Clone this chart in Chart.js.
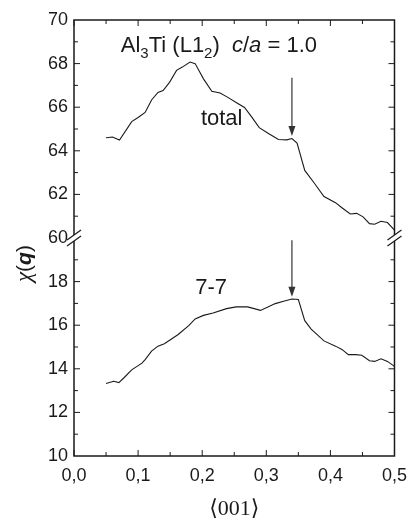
<!DOCTYPE html>
<html>
<head>
<meta charset="utf-8">
<script src="https://cdn.jsdelivr.net/npm/chart.js@4.4.0/dist/chart.umd.min.js"></script>
<style>body{margin:0;background:#fff}</style>
</head>
<body>
<canvas id="chi" width="416" height="522"></canvas>
<script>
// q along <001>
const xTotal = [0.05, 0.06, 0.071, 0.09, 0.10, 0.111, 0.121, 0.131, 0.139, 0.149, 0.16, 0.169, 0.181, 0.189,
  0.202, 0.215, 0.228, 0.24, 0.253, 0.266, 0.276, 0.289, 0.304, 0.319, 0.332, 0.34, 0.348, 0.36, 0.375,
  0.39, 0.408, 0.418, 0.431, 0.441, 0.451, 0.461, 0.469, 0.479, 0.489, 0.5]
const chiTotal = [64.6, 64.63, 64.49, 65.34, 65.53, 65.76, 66.33, 66.68, 66.76, 67.14, 67.69, 67.84, 68.07, 68.0,
  67.3, 66.73, 66.65, 66.45, 66.22, 65.99, 65.6, 65.06, 64.78, 64.52, 64.5, 64.56, 64.35, 63.1, 62.51,
  61.9, 61.62, 61.39, 61.1, 61.13, 60.97, 60.66, 60.63, 60.77, 60.71, 60.36]

const x77 = [0.05, 0.062, 0.07, 0.078, 0.09, 0.106, 0.111, 0.121, 0.131, 0.141, 0.162, 0.179, 0.189, 0.202,
  0.217, 0.238, 0.253, 0.271, 0.291, 0.314, 0.327, 0.34, 0.35, 0.36, 0.37, 0.39, 0.408, 0.418, 0.428,
  0.439, 0.449, 0.461, 0.469, 0.479, 0.489, 0.5]
const chi77 = [13.33, 13.43, 13.37, 13.59, 13.95, 14.26, 14.42, 14.81, 15.04, 15.15, 15.56, 15.98, 16.29, 16.45,
  16.56, 16.76, 16.84, 16.84, 16.68, 16.99, 17.1, 17.2, 17.18, 16.21, 15.82, 15.28, 15.04, 14.89, 14.65,
  14.65, 14.62, 14.37, 14.34, 14.46, 14.34, 14.11]

const topRange = [60, 70]
const botRange = [10, 20]
const arrowQ = 0.34

const INK = '#1a1a1a'
const sans = "'Liberation Sans', Arial, sans-serif"
const serif = "'Liberation Serif', 'DejaVu Serif', serif"

Chart.defaults.font.family = sans
Chart.defaults.color = INK

function pts(xs, ys) { return xs.map((x, i) => ({ x: x, y: ys[i] })) }

function line(ctx, x1, y1, x2, y2) {
  ctx.beginPath(); ctx.moveTo(x1, y1); ctx.lineTo(x2, y2); ctx.stroke()
}

function arrow(ctx, x, y1, y2) {
  ctx.strokeStyle = '#333'; ctx.fillStyle = '#333'; ctx.lineWidth = 1.2
  line(ctx, x, y1, x, y2 - 8)
  ctx.beginPath(); ctx.moveTo(x - 3.5, y2 - 10); ctx.lineTo(x + 3.5, y2 - 10); ctx.lineTo(x, y2); ctx.fill()
}

function breakMark(ctx, x, y) {
  ctx.fillStyle = '#fff'
  ctx.beginPath()
  ctx.moveTo(x - 7, y + 2); ctx.lineTo(x + 7, y - 8); ctx.lineTo(x + 7, y - 2); ctx.lineTo(x - 7, y + 8)
  ctx.fill()
  ctx.strokeStyle = INK; ctx.lineWidth = 1.2
  line(ctx, x - 7, y + 2, x + 7, y - 8)
  line(ctx, x - 7, y + 8, x + 7, y - 2)
}

// text with sub-runs: [text, font, dy]
function runs(ctx, x, y, parts) {
  parts.forEach(([t, f, dy]) => {
    ctx.font = f
    ctx.fillText(t, x, y + (dy || 0))
    x += ctx.measureText(t).width
  })
}

const frame = {
  id: 'frame',
  afterDraw(chart) {
    const { ctx, chartArea: a, scales: { x, yTop, yBot } } = chart
    ctx.save()
    ctx.strokeStyle = INK; ctx.lineWidth = 1.5
    ctx.strokeRect(a.left, a.top, a.right - a.left, a.bottom - a.top)

    ctx.lineWidth = 1
    for (let i = 0; i <= 10; i++) {
      const px = x.getPixelForValue(i * 0.05)
      const len = i % 2 ? 4 : 6
      line(ctx, px, a.bottom, px, a.bottom - len)
      line(ctx, px, a.top, px, a.top + len)
    }
    ;[[yTop, topRange], [yBot, botRange]].forEach(([s, r]) => {
      for (let v = r[0] + 1; v < r[1]; v++) {
        const py = s.getPixelForValue(v)
        const len = v % 2 ? 4 : 6
        line(ctx, a.left, py, a.left + len, py)
        line(ctx, a.right, py, a.right - len, py)
      }
    })

    const yb = yTop.bottom
    breakMark(ctx, a.left, yb)
    breakMark(ctx, a.right, yb)

    const ax = x.getPixelForValue(arrowQ)
    arrow(ctx, ax, yTop.getPixelForValue(67.35), yTop.getPixelForValue(64.68))
    arrow(ctx, ax, yBot.getPixelForValue(19.9), yBot.getPixelForValue(17.3))

    ctx.fillStyle = INK
    ctx.textBaseline = 'alphabetic'
    runs(ctx, x.getPixelForValue(0.073), yTop.getPixelForValue(68.52), [
      ['Al', '22px ' + sans], ['3', '15px ' + sans, 6], ['Ti (L1', '22px ' + sans], ['2', '15px ' + sans, 6],
      [')  ', '22px ' + sans], ['c', 'italic 22px ' + sans], ['/', '22px ' + sans], ['a', 'italic 22px ' + sans],
      [' = 1.0', '22px ' + sans]
    ])
    ctx.font = '22px ' + sans
    ctx.fillText('total', x.getPixelForValue(0.198), yTop.getPixelForValue(65.2))
    ctx.fillText('7-7', x.getPixelForValue(0.189), yBot.getPixelForValue(17.45))

    // y title
    ctx.translate(31, yb + 44)
    ctx.rotate(-Math.PI / 2)
    runs(ctx, 0, 0, [['χ', 'italic 23px ' + serif], ['(', '21px ' + sans], ['q', 'bold italic 21px ' + sans], [')', '21px ' + sans]])
    ctx.restore()
  }
}

new Chart(document.getElementById('chi'), {
  type: 'scatter',
  data: {
    datasets: [
      { label: 'total', data: pts(xTotal, chiTotal), yAxisID: 'yTop' },
      { label: '7-7', data: pts(x77, chi77), yAxisID: 'yBot' }
    ]
  },
  options: {
    responsive: false,
    animation: false,
    showLine: true,
    datasets: { scatter: { showLine: true } },
    elements: {
      point: { radius: 0 },
      line: { borderColor: INK, borderWidth: 1.1, tension: 0 }
    },
    layout: { padding: { top: 20, right: 14, left: 0, bottom: 0 } },
    plugins: { legend: { display: false }, tooltip: { enabled: false } },
    scales: {
      x: {
        type: 'linear', min: 0, max: 0.5,
        grid: { display: false, drawTicks: false },
        border: { display: false },
        ticks: { stepSize: 0.1, padding: 9, font: { size: 18 }, callback: v => v.toFixed(1).replace('.', ',') },
        title: { display: true, text: '⟨001⟩', font: { family: serif, size: 22 }, padding: { top: 0, bottom: 0 } },
        afterFit: s => { s.height = 66 }
      },
      // stacked axes are laid out top-down in the order given here
      yBot: {
        type: 'linear', position: 'left', stack: 'chi', stackWeight: 1,
        min: botRange[0], max: botRange[1],
        grid: { display: false, drawTicks: false },
        border: { display: false },
        ticks: { stepSize: 2, padding: 6, font: { size: 18 }, callback: v => v >= 20 ? '' : v },
        afterFit: s => { s.width = 74 }
      },
      yTop: {
        type: 'linear', position: 'left', stack: 'chi', stackWeight: 1,
        min: topRange[0], max: topRange[1],
        grid: { display: false, drawTicks: false },
        border: { display: false },
        ticks: { stepSize: 2, padding: 6, font: { size: 18 } },
        afterFit: s => { s.width = 74 }
      }
    }
  },
  plugins: [frame]
})
</script>
</body>
</html>
